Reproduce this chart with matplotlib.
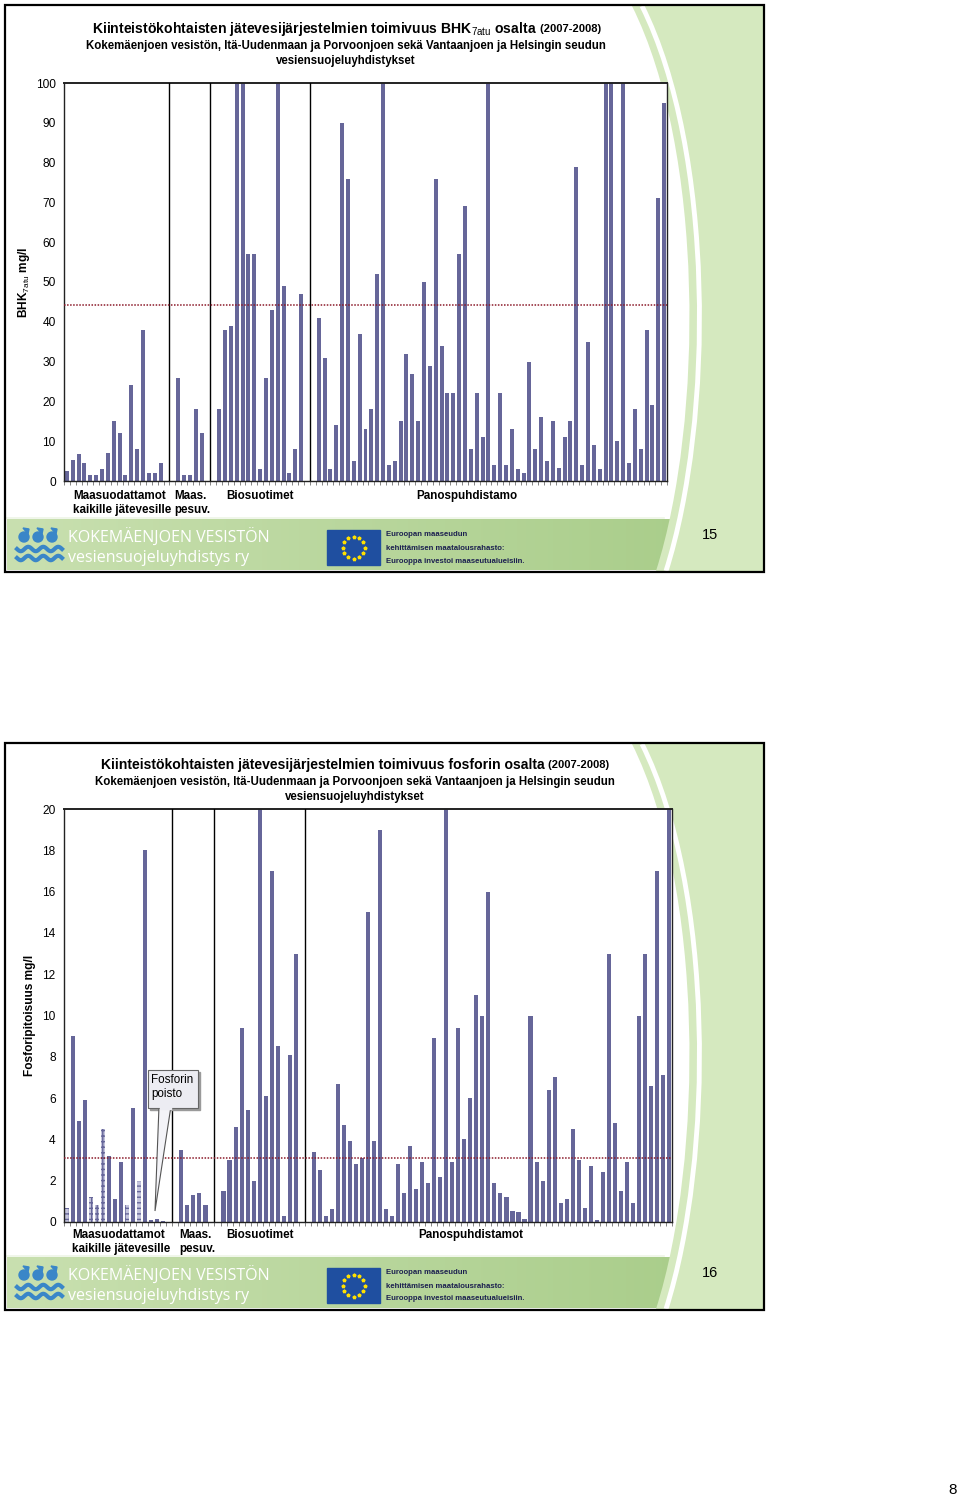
import numpy as np
import matplotlib
matplotlib.use("Agg")
import matplotlib.pyplot as plt
from matplotlib.patches import Rectangle, PathPatch, Polygon, Circle
from matplotlib.path import Path

plt.rcParams['font.family'] = ['Liberation Sans', 'DejaVu Sans']
plt.rcParams['mathtext.fontset'] = 'custom'
plt.rcParams['mathtext.rm'] = 'Liberation Sans'
plt.rcParams['mathtext.bf'] = 'Liberation Sans:bold'
plt.rcParams['hatch.linewidth'] = 1.0

# ---- data: BHK7atu (mg/l), one value per treatment plant, 0 = empty slot
bhk = [2.5, 5.3, 6.7, 4.5, 1.5, 1.5, 3, 7, 15, 12, 1.5, 24, 8, 38, 2, 2, 4.5,
       0, 0,
       26, 1.5, 1.5, 18, 12,
       0, 0,
       18, 38, 39, 100, 100, 57, 57, 3, 26, 43, 100, 49, 2, 8, 47,
       0, 0,
       41, 31, 3, 14, 90, 76, 5, 37, 13, 18, 52, 100, 4, 5, 15, 32, 27, 15,
       50, 29, 76, 34, 22, 22, 57, 69, 8, 22, 11, 100, 4, 22, 4, 13, 3, 2,
       30, 8, 16, 5, 15, 3.3, 11, 15, 79, 4, 35, 9, 3, 100, 100, 10, 100,
       4.5, 18, 8, 38, 19, 71, 95]
bhk_limit = 44.3
bhk_groups = [17.5, 24.5, 41.5]

# ---- data: phosphorus (mg/l)
fosfori = [0.7, 9.0, 4.9, 5.9, 1.2, 0.8, 4.5, 3.2, 1.1, 2.9, 0.8, 5.5, 2.0, 18,
           0.1, 0.15, 0.05,
           0, 0,
           3.5, 0.8, 1.3, 1.4, 0.8,
           0, 0,
           1.5, 3.0, 4.6, 9.4, 5.4, 2.0, 20, 6.1, 17, 8.5, 0.3, 8.1, 13,
           0, 0,
           3.4, 2.5, 0.3, 0.65, 6.7, 4.7, 3.9, 2.8, 3.1, 15, 3.9, 19, 0.65,
           0.3, 2.8, 1.4, 3.7, 1.6, 2.9, 1.9, 8.9, 2.2, 20, 2.9, 9.4, 4.0,
           6.0, 11, 10, 16, 1.9, 1.4, 1.2, 0.55, 0.5, 0.15, 10, 2.9, 2.0, 6.4,
           7.0, 0.9, 1.1, 4.5, 3.0, 0.7, 2.7, 0.1, 2.4, 13, 4.8, 1.5, 2.9,
           0.9, 10, 13, 6.6, 17, 7.1, 20]
fosfori_hatched = [0, 4, 5, 6, 10, 12]   # plants with chemical P removal
fosfori_limit = 3.1
fosfori_groups = [17.5, 24.5, 39.5]

BAR = '#666699'
W, H = 960, 1499

fig = plt.figure(figsize=(W / 100, H / 100), dpi=100)
bg = fig.add_axes([0, 0, 1, 1], zorder=0)
bg.set_xlim(0, W)
bg.set_ylim(H, 0)
bg.axis('off')


def slide_background(dy, number):
    # green swoosh on the right
    c1 = Path([(632, 6 + dy), (704, 150 + dy), (704, 420 + dy), (656, 571 + dy),
               (763, 571 + dy), (763, 6 + dy), (632, 6 + dy)],
              [Path.MOVETO, Path.CURVE4, Path.CURVE4, Path.CURVE4,
               Path.LINETO, Path.LINETO, Path.CLOSEPOLY])
    # footer band with gradient
    grad = np.linspace(0, 1, 256).reshape(1, -1)
    cmap = matplotlib.colors.LinearSegmentedColormap.from_list('g', ['#c9e0b0', '#a9cd8a'])
    bg.imshow(grad, extent=(7, 700, 570 + dy, 519 + dy), aspect='auto', cmap=cmap, zorder=1)
    bg.add_patch(PathPatch(c1, facecolor='#d5e9bf', edgecolor='none', zorder=2))
    c2 = Path([(642, 6 + dy), (714, 150 + dy), (714, 420 + dy), (666, 571 + dy)],
              [Path.MOVETO, Path.CURVE4, Path.CURVE4, Path.CURVE4])
    bg.add_patch(PathPatch(c2, facecolor='none', edgecolor='white', lw=3.5, zorder=3))
    bg.plot([7, 664], [518 + dy, 518 + dy], color='#eef5e6', lw=1.2, zorder=1.5)
    bg.add_patch(Rectangle((5, 5 + dy), 759, 567, fill=False, edgecolor='black', lw=1.6, zorder=6))
    bg.text(710, 535 + dy, number, fontsize=10.5, ha='center', va='center', zorder=6)

    # association logo
    blue = '#3a86c8'
    for cx in (24, 38, 52):
        bg.add_patch(Circle((cx, 537 + dy), 5, color=blue, zorder=5))
        bg.add_patch(Polygon([(cx - 1, 528 + dy), (cx + 5, 529 + dy), (cx + 4, 534 + dy)],
                             color=blue, zorder=5))
    wx = np.linspace(17, 62, 80)
    for yy in (549, 558):
        bg.plot(wx, yy + dy + 2.2 * np.sin((wx - 17) / 45 * 6 * np.pi), color=blue, lw=3, zorder=5)
    bg.text(68, 538 + dy, 'KOKEMÄENJOEN VESISTÖN', family='Open Sans', fontsize=11.5,
            color='white', va='center', ha='left', zorder=5)
    bg.text(68, 558 + dy, 'vesiensuojeluyhdistys ry', family='Open Sans', fontsize=11.5,
            color='white', va='center', ha='left', zorder=5)

    # EU flag and text
    bg.add_patch(Rectangle((327, 530 + dy), 53, 35, color='#1f4fa0', zorder=5))
    ang = np.linspace(0, 2 * np.pi, 13)[:-1]
    bg.plot(353.5 + 11 * np.cos(ang), 547.5 + dy + 11 * np.sin(ang), linestyle='none',
            marker='*', ms=2.6, color='#ffe000', zorder=6)
    for txt, yy in (('Euroopan maaseudun', 534), ('kehittämisen maatalousrahasto:', 548),
                    ('Eurooppa investoi maaseutualueisiin.', 561)):
        bg.text(386, yy + dy, txt, fontsize=5.6, fontweight='bold', color='#1c2050',
                va='center', ha='left', zorder=6)


slide_background(0, '15')
slide_background(738, '16')
bg.text(953, 1490, '8', fontsize=11, ha='center', va='center')


def title_block(x0, y0, main, center):
    t = bg.text(x0, y0, main, fontsize=10.1, fontweight='bold', ha='left', va='center', zorder=6)
    bg.annotate(' (2007-2008)', xy=(1, 0.5), xycoords=t, fontsize=8.0, fontweight='bold',
                ha='left', va='center', zorder=6)
    bg.text(center, y0 + 17, 'Kokemäenjoen vesistön, Itä-Uudenmaan ja Porvoonjoen sekä '
            'Vantaanjoen ja Helsingin seudun', fontsize=8.3, fontweight='bold',
            ha='center', va='center', zorder=6)
    bg.text(center, y0 + 32, 'vesiensuojeluyhdistykset', fontsize=8.3, fontweight='bold',
            ha='center', va='center', zorder=6)


title_block(92, 29, 'Kiinteistökohtaisten jätevesijärjestelmien toimivuus BHK$_{\\mathrm{7atu}}$ osalta', 346)
title_block(101, 765, 'Kiinteistökohtaisten jätevesijärjestelmien toimivuus fosforin osalta', 355)


def px_axes(l, t, r, b, z=1):
    return fig.add_axes([l / W, 1 - b / H, (r - l) / W, (b - t) / H], zorder=z)


def bar_chart(ax, values, limit, groups, ymax, ystep, hatched=()):
    x = np.arange(len(values))
    bars = ax.bar(x, values, width=0.68, color=BAR, edgecolor='none', zorder=2)
    for i in hatched:
        bars[i].set_facecolor('#c4c4dc')
        bars[i].set_edgecolor(BAR)
        bars[i].set_hatch('+++')
        bars[i].set_linewidth(0)
    for g in groups:
        ax.axvline(g, color='black', lw=1.0, zorder=3)
    ax.axhline(limit, color='#8b1a2a', lw=1.1, ls=(0, (1, 1)), zorder=4)
    ax.set_xlim(-0.45, len(values) - 0.55)
    ax.set_ylim(0, ymax)
    ax.set_yticks(np.arange(0, ymax + 0.1, ystep))
    ax.set_xticks(np.arange(-0.5, len(values), 1))
    ax.set_xticklabels([])
    ax.tick_params(axis='x', length=3, width=0.5, color='#555555')
    ax.tick_params(axis='y', length=0, labelsize=8.6, pad=6)
    for s in ax.spines.values():
        s.set_color('#222222')
        s.set_linewidth(1.0)
    ax.spines['top'].set_linewidth(1.4)
    ax.set_facecolor('white')


ax1 = px_axes(64, 83, 667, 481)
bar_chart(ax1, bhk, bhk_limit, bhk_groups, 100, 10)
ax2 = px_axes(64, 809, 672, 1222)
bar_chart(ax2, fosfori, fosfori_limit, fosfori_groups, 20, 2, fosfori_hatched)

bg.text(24, 282, 'BHK$_{\\mathrm{7atu}}$ mg/l', rotation=90, fontsize=8.6, fontweight='bold',
        ha='center', va='center')
bg.text(30, 1015, 'Fosforipitoisuus mg/l', rotation=90, fontsize=8.6, fontweight='bold',
        ha='center', va='center')

# group labels under the axes
for dy, last in ((0, 'Panospuhdistamo'), (739, 'Panospuhdistamot')):
    kw = dict(fontsize=8.4, fontweight='bold', va='center', zorder=6)
    xs = 0 if dy == 0 else -1
    bg.text(73 + xs, 496 + dy, 'Maasuodattamot', ha='left', **kw)
    bg.text(73 + xs, 510 + dy, 'kaikille jätevesille', ha='left', **kw)
    bg.text(174 + (5 if dy else 0), 496 + dy, 'Maas.', ha='left', **kw)
    bg.text(174 + (5 if dy else 0), 510 + dy, 'pesuv.', ha='left', **kw)
    bg.text(226, 496 + dy, 'Biosuotimet', ha='left', **kw)
    bg.text(467 + (4 if dy else 0), 496 + dy, last, ha='center', **kw)

# callout "Fosforin poisto"
ov = fig.add_axes([0, 0, 1, 1], zorder=5)
ov.set_xlim(0, W)
ov.set_ylim(H, 0)
ov.axis('off')
ov.patch.set_alpha(0)
ov.add_patch(Rectangle((150, 1072), 50, 38, color='#9a9a9a', zorder=1))
ov.add_patch(Polygon([(159, 1106), (171, 1106), (155, 1211)], closed=True,
                     facecolor='#f4f4f8', edgecolor='#555555', lw=0.8, zorder=2))
ov.add_patch(Rectangle((148, 1070), 50, 38, facecolor='#ececf2', edgecolor='#666666',
                       lw=0.8, zorder=3))
ov.add_patch(Rectangle((159.5, 1104), 11, 5, color='#ececf2', zorder=4))
ov.text(151, 1080, 'Fosforin', fontsize=8.4, ha='left', va='center', zorder=5)
ov.text(151, 1094, 'poisto', fontsize=8.4, ha='left', va='center', zorder=5)

fig.savefig('out.png', dpi=100)
